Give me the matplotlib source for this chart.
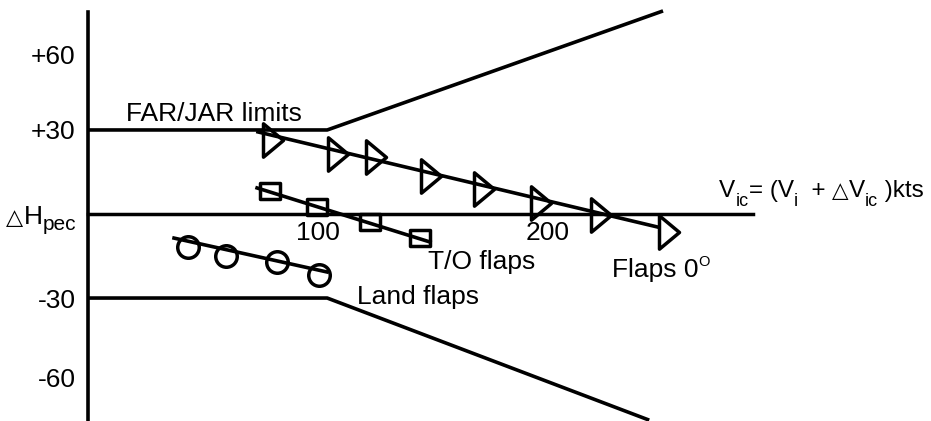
import matplotlib
matplotlib.use('Agg')
import matplotlib.pyplot as plt
from matplotlib.path import Path

plt.rcParams['font.family'] = ['Liberation Sans', 'DejaVu Sans']

# --- data (speed in kts, position error) ---
limit_x = [0, 104, 250]
limit_up = [30, 30, 72.5]
limit_low_x = [0, 104, 244]
limit_low = [-30, -30, -73.6]

flaps0_x = [80.4, 108.5, 125.2, 149.1, 172.2, 197.0, 223.0, 252.4]
flaps0_y = [26.4, 21.3, 20.2, 13.6, 9.1, 3.8, -0.5, -6.3]
flaps0_fit_x = [73.9, 247.4]
flaps0_fit_y = [29.3, -4.6]

to_x = [79.1, 99.6, 122.6, 144.3]
to_y = [8.2, 2.5, -2.9, -8.6]
to_fit_x = [73.5, 148.7]
to_fit_y = [9.3, -10.0]

land_x = [43.5, 60.0, 82.2, 100.4]
land_y = [-11.8, -15.0, -17.1, -21.8]
land_fit_x = [37.4, 103.9]
land_fit_y = [-8.6, -20.7]

xtick_pos = [100, 200]
xtick_labels = ["100", "200"]
ytick_pos = [57, 30, -30, -58.5]
ytick_labels = ["+60", "+30", "-30", "-60"]

tri = Path([(-0.6, -1), (0.6, 0), (-0.6, 1), (-0.6, -1)], closed=True)
rect = Path([(-1, -0.78), (1, -0.78), (1, 0.78), (-1, 0.78), (-1, -0.78)], closed=True)

fig = plt.figure(figsize=(9.31, 4.21), dpi=100)
ax = fig.add_axes([0, 0, 1, 1])
ax.set_xlim(-38.26, 366.5)
ax.set_ylim(-73.9, 76.4)

for s in ['top', 'right']:
    ax.spines[s].set_visible(False)
ax.spines['left'].set_position(('data', 0))
ax.spines['left'].set_bounds(-74, 72.1)
ax.spines['left'].set_linewidth(2.6)
ax.spines['bottom'].set_position(('data', 0))
ax.spines['bottom'].set_bounds(0, 289)
ax.spines['bottom'].set_linewidth(2.5)

fs = 19
ax.set_xticks(xtick_pos, xtick_labels)
ax.set_yticks(ytick_pos, ytick_labels)
ax.tick_params(length=0, labelsize=fs)
ax.tick_params(axis='y', pad=9)
ax.tick_params(axis='x', pad=5)

lw = 2.6
ax.plot(limit_x, limit_up, color='black', lw=lw, solid_capstyle='butt')
ax.plot(limit_low_x, limit_low, color='black', lw=lw, solid_capstyle='butt')

mk = dict(ls='none', mfc='none', mec='black', mew=2.5)
ax.plot(flaps0_fit_x, flaps0_fit_y, color='black', lw=lw)
ax.plot(flaps0_x, flaps0_y, marker=tri, ms=24, **mk)
ax.plot(to_fit_x, to_fit_y, color='black', lw=lw)
ax.plot(to_x, to_y, marker=rect, ms=15, **mk)
ax.plot(land_fit_x, land_fit_y, color='black', lw=lw)
ax.plot(land_x, land_y, marker='o', ms=15.5, **mk)

ax.text(16.5, 33.2, "FAR/JAR limits", fontsize=fs, va='baseline')
ax.text(147.8, -19.6, "T/O flaps", fontsize=fs, va='baseline')
ax.text(117, -32.1, "Land flaps", fontsize=fs, va='baseline')

# text made of pieces (sub/superscripts), placed one after the other
renderer = fig.canvas.get_renderer()
def flow(x, y, pieces):
    px, py = ax.transData.transform((x, y))
    for txt, size, dy, fam in pieces:
        t = ax.text(px, py + dy, txt, transform=None, fontsize=size,
                    family=fam, va='baseline')
        px += t.get_window_extent(renderer).width

SANS = 'Liberation Sans'
TRI = 'DejaVu Sans'
flow(227.8, -22.5, [("Flaps 0", fs, 0, SANS), ("O", 10.5, 11, SANS)])
f2 = 17.5
flow(274.5, 6.1, [("V", f2, 0, SANS), ("ic", 13, -9, SANS), ("= (V", f2, 0, SANS),
                  ("i", 13, -9, SANS), ("  + ", f2, 0, SANS), ("\u25b3", 15.5, 0, TRI),
                  ("V", f2, 0, SANS), ("ic", 13, -9, SANS), (" )kts", f2, 0, SANS)])
flow(-35.5, -3.4, [("\u25b3", 16, 0, TRI), ("H", fs, 0, SANS), ("pec", 15, -6, SANS)])

fig.savefig("out.png", dpi=100)
